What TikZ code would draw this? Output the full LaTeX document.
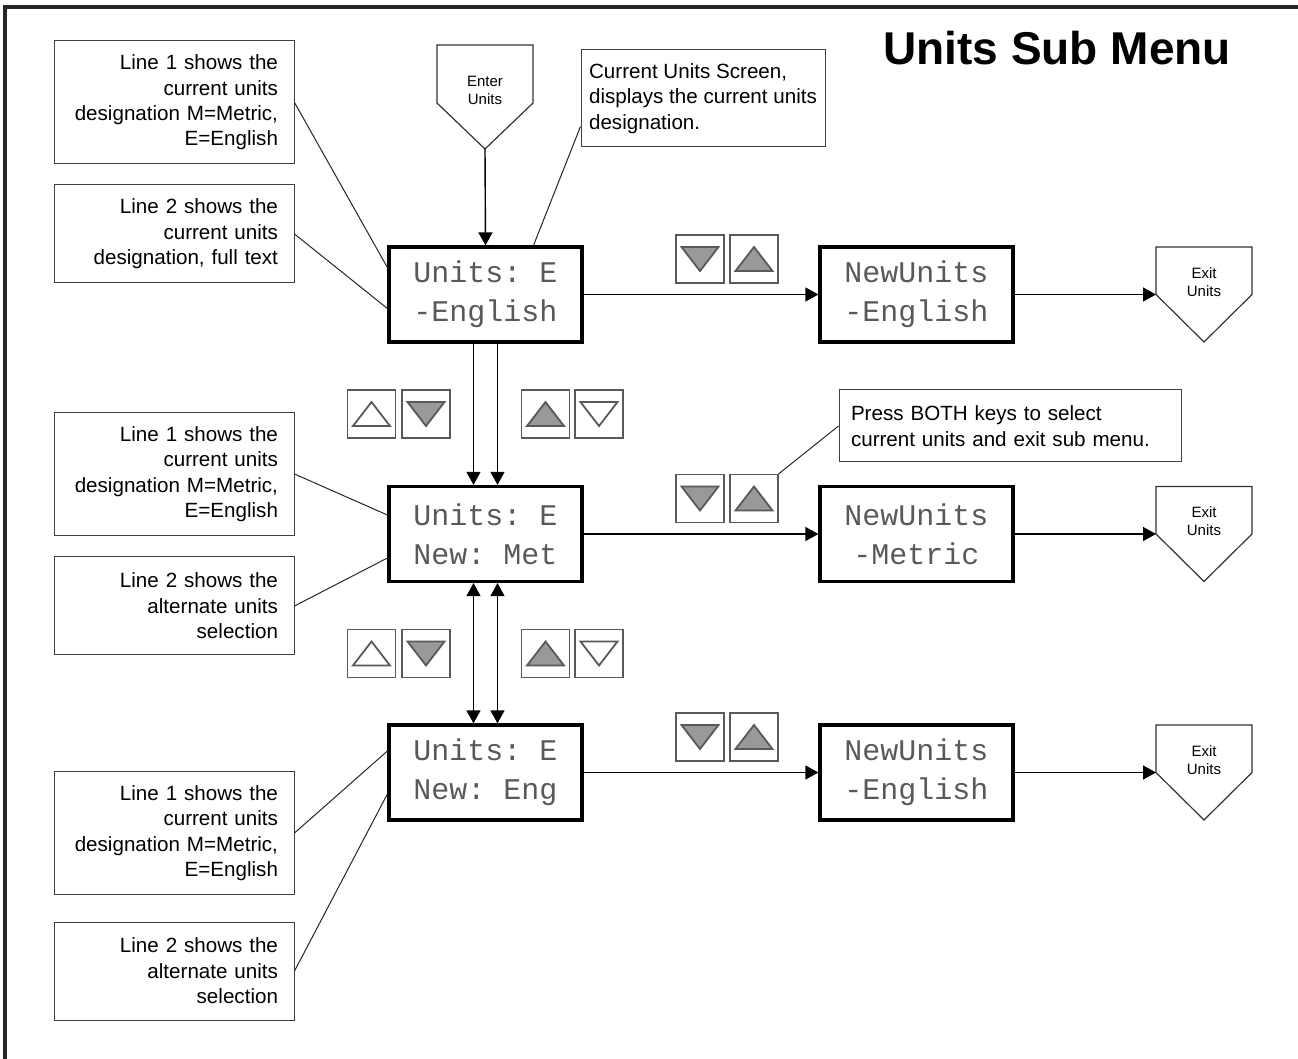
\documentclass[tikz,border=0pt]{standalone}
\usepackage{fontspec}
\setmainfont{Liberation Sans}
\setmonofont{Liberation Mono}
\usetikzlibrary{arrows.meta,positioning,calc}

\newcommand{\notefont}{\fontsize{10.3}{12.7}\selectfont}
\newcommand{\tagfont}{\fontsize{7.5}{9}\selectfont}
\newcommand{\lcdfont}{\ttfamily\fontsize{15}{19.5}\selectfont}
\newcommand{\titlefont}{\fontsize{23}{27}\selectfont\bfseries}

\begin{document}
\begin{tikzpicture}[
    x=0.5pt, y=-0.5pt,
    lcd/.style={draw, line width=1.6pt, minimum width=96.5pt, minimum height=47.5pt,
        align=center, font=\lcdfont, text=black!65, inner sep=0pt},
    note/.style={draw=black!75, line width=0.5pt, text width=104pt, align=right,
        inner xsep=8pt, font=\notefont},
    lnote/.style={draw=black!75, line width=0.5pt, align=left, inner xsep=6pt, font=\notefont},
    tag/.style={align=center, font=\tagfont, inner sep=0pt},
    pent/.style={draw=black!80, line width=0.6pt},
    arr/.style={-{Triangle[length=6.5pt,width=7pt]}, line width=0.7pt},
    arrboth/.style={{Triangle[length=6.5pt,width=7pt]}-{Triangle[length=6.5pt,width=7pt]}, line width=0.7pt},
    lead/.style={line width=0.5pt, black!85},
    keybox/.style={draw=black!65, line width=0.6pt, minimum size=24pt, inner sep=0pt},
    upkey/.style={keybox, path picture={
        \filldraw[fill=#1, line width=0.9pt]
            ($(path picture bounding box.center)+(-9.25pt,-6pt)$) -- ++(18.5pt,0pt)
            -- ($(path picture bounding box.center)+(0pt,6pt)$) -- cycle;}},
    dnkey/.style={keybox, path picture={
        \filldraw[fill=#1, line width=0.9pt]
            ($(path picture bounding box.center)+(-9.25pt,6pt)$) -- ++(18.5pt,0pt)
            -- ($(path picture bounding box.center)+(0pt,-6pt)$) -- cycle;}}
]
    \useasboundingbox (0,0) rectangle (1298,1059);
    % frame
    \draw[line width=2pt, black!85] (5,1070) -- (5,7) -- (1310,7);
    \node[anchor=base east, font=\titlefont] (title) at (1238,65) {Units Sub Menu};

    % entry
    \node[tag] (enter) at (485,90) {Enter\\Units};
    \draw[pent] (437,45) -- (533,45) -- (533,103) -- (485,149) -- (437,103) -- cycle;
    \coordinate (entertip) at (485,149);

    % screens
    \node[lcd] (lcdA) at (485.5,294.5) {Units: E\\-English};
    \node[lcd] (lcdB) at (485.5,534) {Units: E\\New: Met};
    \node[lcd] (lcdC) at (485.5,772.5) {Units: E\\New: Eng};
    \node[lcd] (newA) at (916.5,294.5) {NewUnits\\-English};
    \node[lcd] (newB) at (916.5,534) {NewUnits\\-Metric};
    \node[lcd] (newC) at (916.5,772.5) {NewUnits\\-English};

    \draw[arr] (entertip) -- (lcdA.north);

    % exits and key pairs
    \foreach \r/\m in {A/294.5,B/534,C/772.5} {
        \node[tag] (exit\r) at (1204,\m-12.5) {Exit\\Units};
        \draw[pent] (1156,\m-47.5) -- (1252,\m-47.5) -- (1252,\m) -- (1204,\m+47.5) -- (1156,\m) -- cycle;
        \coordinate (exin\r) at (1156,\m);
        \node[dnkey=black!40] (k\r1) at (700,\m-35.5) {};
        \node[upkey=black!40] (k\r2) at (754,\m-35.5) {};
        \draw[arr] (lcd\r) -- (new\r);
        \draw[arr] (new\r) -- (exin\r);
    }

    % up / down between screens
    \foreach \v/\y in {1/414,2/653.5} {
        \node[upkey=white] (u\v1) at (371.5,\y) {};
        \node[dnkey=black!40] (u\v2) at (426,\y) {};
        \node[upkey=black!40] (u\v3) at (545.5,\y) {};
        \node[dnkey=white] (u\v4) at (599,\y) {};
    }
    \draw[arr] ([xshift=-6pt]lcdA.south) -- ([xshift=-6pt]lcdB.north);
    \draw[arr] ([xshift=6pt]lcdA.south) -- ([xshift=6pt]lcdB.north);
    \draw[arrboth] ([xshift=-6pt]lcdB.south) -- ([xshift=-6pt]lcdC.north);
    \draw[arrboth] ([xshift=6pt]lcdB.south) -- ([xshift=6pt]lcdC.north);

    % callouts
    \node[note, minimum height=61.5pt] (n1) at (174,102.5) {Line 1 shows the\\current units\\designation M=Metric,\\E=English};
    \node[note, minimum height=49pt] (n2) at (174,234) {Line 2 shows the\\current units\\designation, full text};
    \node[note, minimum height=61.5pt] (n3) at (174,474) {Line 1 shows the\\current units\\designation M=Metric,\\E=English};
    \node[note, minimum height=49pt] (n4) at (174,606) {Line 2 shows the\\alternate units\\selection};
    \node[note, minimum height=61.5pt] (n5) at (174,833) {Line 1 shows the\\current units\\designation M=Metric,\\E=English};
    \node[note, minimum height=49pt] (n6) at (174,971) {Line 2 shows the\\alternate units\\selection};
    \node[lnote, inner xsep=4pt, minimum width=122pt, minimum height=48.5pt] (cur) at (703,98.5)
        {Current Units Screen,\\displays the current units\\designation.};
    \node[lnote, minimum width=171pt, minimum height=36pt, text width=159pt] (press) at (1010,426)
        {Press BOTH keys to select\\current units and exit sub menu.};

    \draw[lead] (n1.east) -- ($(lcdA.west)+(0,-27)$);
    \draw[lead] (n2.east) -- ($(lcdA.west)+(0,14)$);
    \draw[lead] (n3.east) -- ($(lcdB.west)+(0,-19)$);
    \draw[lead] (n4.east) -- ($(lcdB.west)+(0,24)$);
    \draw[lead] (n5.east) -- ($(lcdC.west)+(0,-21.5)$);
    \draw[lead] (n6.east) -- ($(lcdC.west)+(0,21.5)$);
    \draw[lead] ($(cur.west)+(0,28)$) -- ($(lcdA.north)+(48,0)$);
    \draw[lead] (press.west) -- (kB2.north east);
\end{tikzpicture}
\end{document}
